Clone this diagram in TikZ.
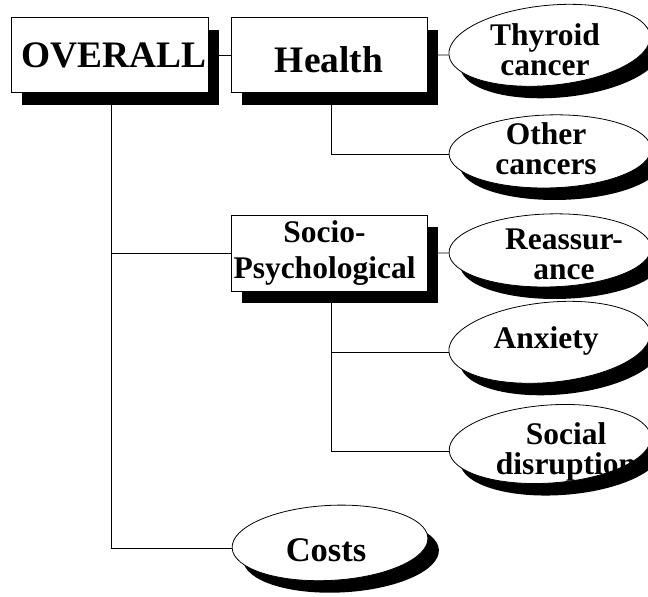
\documentclass[tikz,border=0pt]{standalone}
\usepackage{fontspec}
\setmainfont{Liberation Serif}
\usetikzlibrary{shapes.geometric,shadows}

\begin{document}
\begin{tikzpicture}[x=1pt,y=-1pt,line width=0.8pt,
  box/.style={rectangle,draw,fill=white,align=center,inner sep=0pt,
    minimum width=196pt,minimum height=75pt,
    drop shadow={shadow xshift=11pt,shadow yshift=-12pt,fill=black,opacity=1}},
  oval/.style={ellipse,draw,fill=white,inner sep=0pt,
    minimum width=196pt,minimum height=80pt,
    drop shadow={shadow xshift=11pt,shadow yshift=-12pt,fill=black,opacity=1}},
  tall oval/.style={oval,rotate=5.5,minimum width=202pt},
  flat oval/.style={oval,rotate=1.5,minimum width=202pt,minimum height=73pt},
  ovaltext/.style={align=center,inner sep=0pt,
    font=\fontsize{31.5}{30}\selectfont\bfseries},
  big/.style={font=\fontsize{37.4}{37.4}\selectfont\bfseries},
  mid/.style={font=\fontsize{31.5}{36}\selectfont\bfseries}]

\useasboundingbox (0,0) rectangle (648,597);

% boxes
\node[box,big,minimum width=197pt] (ov) at (109.5,55) {\hspace*{8pt}OVERALL};
\node[box,big,text height=35pt] (hl) at (329,55) {Health};
\node[box,mid,minimum height=76pt] (sp) at (329,253)
  {Socio-\hspace*{9pt}\\Psychological\hspace*{9pt}};

% ovals
\node[tall oval] (thy) at (549.5,45.3) {};
\node[ovaltext] (thyT) at (545,50) {Thyroid\\cancer};
\node[flat oval] (oth) at (550,151.4) {};
\node[ovaltext] (othT) at (546,149) {Other\\cancers};
\node[flat oval] (rea) at (550,250.4) {};
\node[ovaltext] (reaT) at (564,254.5) {Reassur-\\ance};
\node[tall oval] (anx) at (549.5,342.3) {};
\node[ovaltext] (anxT) at (546,341) {Anxiety};
\node[tall oval,rotate=-1.5,minimum height=78pt] (soc) at (550,444) {};
\node[ovaltext] (socT) at (566,452) {Social\\disruption};
\node[oval,rotate=3,minimum height=75pt] (cost) at (330,542.9) {};
\node[ovaltext,font=\fontsize{34.5}{34.5}\selectfont\bfseries] (costT) at (326,550) {Costs};

% links
\draw (ov.east) -- (hl.west);
\draw ([xshift=2pt]ov.south) |- (sp.west);
\draw ([xshift=2pt]ov.south) |- (cost.west);
\draw (hl.east) -- (thy.west);
\draw ([xshift=2pt]hl.south) |- (oth.west);
\draw (sp.east) -- (rea.west);
\draw ([xshift=2pt]sp.south) |- (anx.west);
\draw ([xshift=2pt]sp.south) |- (soc.west);

\end{tikzpicture}
\end{document}
